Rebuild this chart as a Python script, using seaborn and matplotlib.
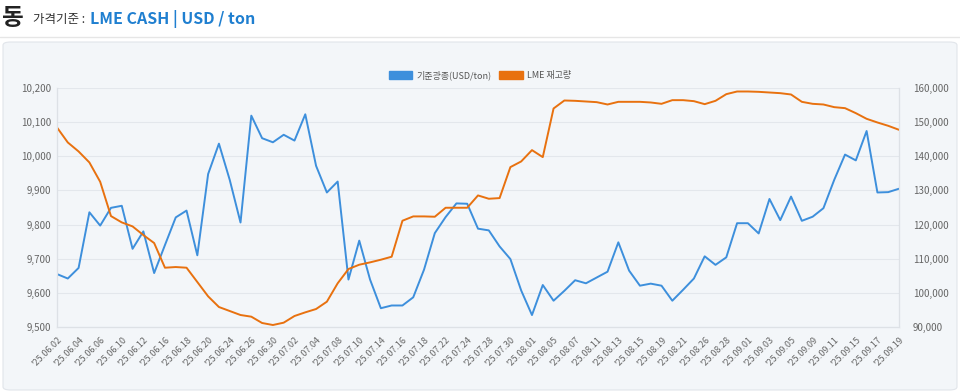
import numpy as np
import pandas as pd
import matplotlib
matplotlib.use('Agg')
import matplotlib.pyplot as plt
from matplotlib.patches import FancyBboxPatch, Patch
from matplotlib.ticker import FuncFormatter
import seaborn as sns

dates = [
    "06.02", "06.03", "06.04", "06.05", "06.06", "06.09", "06.10", "06.11", "06.12", "06.13",
    "06.16", "06.17", "06.18", "06.19", "06.20", "06.23", "06.24", "06.25", "06.26", "06.27",
    "06.30", "07.01", "07.02", "07.03", "07.04", "07.07", "07.08", "07.09", "07.10", "07.11",
    "07.14", "07.15", "07.16", "07.17", "07.18", "07.21", "07.22", "07.23", "07.24", "07.25",
    "07.28", "07.29", "07.30", "07.31", "08.01", "08.04", "08.05", "08.06", "08.07", "08.08",
    "08.11", "08.12", "08.13", "08.14", "08.15", "08.18", "08.19", "08.20", "08.21", "08.22",
    "08.26", "08.27", "08.28", "08.29", "09.01", "09.02", "09.03", "09.04", "09.05", "09.08",
    "09.09", "09.10", "09.11", "09.12", "09.15", "09.16", "09.17", "09.18", "09.19",
]

price = [
    9655, 9642, 9673, 9836, 9797, 9849, 9855, 9729, 9780, 9658,
    9740, 9821, 9841, 9710, 9948, 10037, 9931, 9806, 10119, 10053,
    10041, 10063, 10046, 10123, 9972, 9894, 9926, 9639, 9753, 9639,
    9555, 9563, 9563, 9587, 9668, 9775, 9822, 9862, 9861, 9788,
    9783, 9736, 9699, 9607, 9535, 9623, 9577, 9606, 9637, 9628,
    9645, 9662, 9748, 9665, 9621, 9627, 9621, 9577, 9609, 9642,
    9707, 9682, 9704, 9804, 9804, 9774, 9875, 9813, 9882, 9811,
    9823, 9848, 9931, 10005, 9988, 10074, 9894, 9895, 9905,
]

stock = [
    148440, 144050, 141415, 138195, 132537, 122490, 120634, 119463, 116927, 114585,
    107366, 107561, 107366, 103171, 98976, 95854, 94683, 93512, 93024, 91171,
    90585, 91268, 93220, 94293, 95268, 97415, 102800, 106976, 108244, 108927,
    109707, 110585, 121122, 122390, 122390, 122293, 124927, 124927, 124927, 128537,
    127561, 127756, 136829, 138488, 141805, 139756, 154000, 156341, 156244, 156049,
    155854, 155171, 155951, 155951, 155951, 155760, 155366, 156439, 156439, 156146,
    155268, 156244, 158195, 158976, 158976, 158878, 158683, 158488, 158098, 155951,
    155366, 155171, 154390, 154098, 152634, 150976, 149902, 148927, 147756,
]

BLUE = "#3d8fdc"
ORANGE = "#e8710f"
PANEL = "#f3f6f9"
GRID = "#e3e7ec"
TICK = "#666666"

df = pd.DataFrame({"idx": np.arange(len(dates)), "price": price, "stock": stock})

sns.set_style("white")
plt.rcParams['font.family'] = ['Noto Sans CJK KR', 'DejaVu Sans']

fig = plt.figure(figsize=(9.6, 3.92), dpi=100)

# header
fig.text(2 / 960, 1 - 18 / 392, "동", fontsize=17, fontweight="bold", color="#222222", va="center")
fig.text(33 / 960, 1 - 19 / 392, "가격기준 :", fontsize=9, color="#333333", va="center")
fig.text(90 / 960, 1 - 19 / 392, "LME CASH | USD / ton", fontsize=11.5, fontweight="bold",
         color="#1f7fd0", va="center")
fig.add_artist(plt.Line2D([0, 1], [1 - 37 / 392, 1 - 37 / 392], color="#e6e6e6", lw=1))

# panel
panel = FancyBboxPatch((3 / 960, 2 / 392), 954 / 960, 348 / 392,
                       boxstyle="round,pad=0,rounding_size=0.008",
                       transform=fig.transFigure, facecolor=PANEL, edgecolor="#e1e5ea",
                       lw=0.8, zorder=-10)
fig.add_artist(panel)

ax = fig.add_axes([57 / 960, 1 - 327 / 392, 842 / 960, 239 / 392])
ax.set_facecolor(PANEL)
ax2 = ax.twinx()

sns.lineplot(data=df, x="idx", y="price", ax=ax, color=BLUE, lw=1.4)
sns.lineplot(data=df, x="idx", y="stock", ax=ax2, color=ORANGE, lw=1.4)

ax.set_xlim(0, len(dates) - 1)
ax.set_ylim(9500, 10200)
ax.set_yticks(np.arange(9500, 10201, 100))
ax2.set_ylim(90000, 160000)
ax2.set_yticks(np.arange(90000, 160001, 10000))
fmt = FuncFormatter(lambda v, p: f"{int(v):,}")
ax.yaxis.set_major_formatter(fmt)
ax2.yaxis.set_major_formatter(fmt)

ax.grid(axis="y", color=GRID, lw=0.8)
ax.set_axisbelow(True)

xt = list(range(0, len(dates), 2))
ax.set_xticks(xt)
ax.set_xticklabels(["'25." + dates[i] for i in xt], rotation=45, ha="right",
                   rotation_mode="anchor", fontsize=6.5, color=TICK)
ax.tick_params(axis="x", length=0, pad=6)
ax.tick_params(axis="y", length=0, labelsize=7, colors=TICK, pad=4)
ax2.tick_params(axis="y", length=0, labelsize=7, colors=TICK, pad=10)

for a in (ax, ax2):
    a.set_xlabel("")
    a.set_ylabel("")
    a.spines["top"].set_visible(False)
    for s in ("left", "right", "bottom"):
        a.spines[s].set_color("#dde1e6")
        a.spines[s].set_linewidth(0.8)

handles = [Patch(facecolor=BLUE, edgecolor=BLUE), Patch(facecolor=ORANGE, edgecolor=ORANGE)]
fig.legend(handles, ["기준광종(USD/ton)", "LME 재고량"], loc="center",
           bbox_to_anchor=(0.5, 1 - 75 / 392), ncol=2, frameon=False, fontsize=6.5,
           handlelength=2.6, handleheight=1.0, columnspacing=0.8, handletextpad=0.5,
           labelcolor="#555555")

fig.savefig("out.png", dpi=100, facecolor="white")
plt.close(fig)
